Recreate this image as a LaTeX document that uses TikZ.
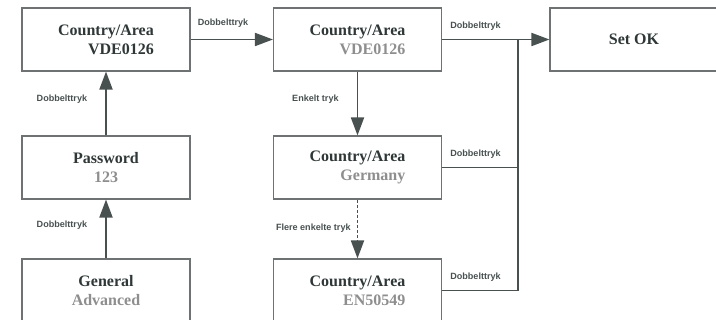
\documentclass[tikz,border=0pt]{standalone}
\usepackage{fontspec}
\setmainfont{Liberation Serif}
\setsansfont{Liberation Sans}
\usetikzlibrary{arrows.meta}
\definecolor{titlegray}{HTML}{2F3737}
\definecolor{valuegray}{HTML}{8E8E8E}
\definecolor{linegray}{HTML}{485050}
\definecolor{framegray}{HTML}{6E7272}

\begin{document}
\begin{tikzpicture}[x=0.75pt,y=-0.75pt,>={Triangle[length=13.5pt,width=9.75pt]},line join=miter,
  box/.style={draw=framegray,line width=0.8pt,minimum width=126pt,minimum height=47.25pt,inner sep=0pt,
    text=titlegray,font=\fontsize{12}{14.5}\selectfont\bfseries},
  link/.style={draw=linegray,line width=1.35pt},
  tag/.style={text=linegray,inner sep=0pt,font=\sffamily\bfseries\fontsize{6.8}{8}\selectfont}]
  \useasboundingbox (0,0) rectangle (716,320);

  \node[box,align=right] (area)  at (106,39.5)   {Country/Area\\VDE0126};
  \node[box,align=center] (pwd)  at (106,167.5)  {Password\\\textcolor{valuegray}{123}};
  \node[box,align=center] (gen)  at (106,290.5)  {General\\\textcolor{valuegray}{Advanced}};
  \node[box,align=right] (sel)   at (357.5,39.5) {Country/Area\\\textcolor{valuegray}{VDE0126}};
  \node[box,align=right] (ger)   at (357.5,167.5) {Country/Area\\\textcolor{valuegray}{Germany}};
  \node[box,align=right] (en)    at (357.5,290.5) {Country/Area\\\textcolor{valuegray}{EN50549}};
  \node[box] (ok) at (634,39.5) {Set OK};
  \coordinate (bus) at (518,39.5);

  \draw[link,->] (gen) -- (pwd) node[tag,midway,anchor=east,xshift=-13.5pt,yshift=3pt] {Dobbelttryk};
  \draw[link,->] (pwd) -- (area) node[tag,midway,anchor=east,xshift=-13.5pt,yshift=3pt] {Dobbelttryk};
  \draw[link,->] (area) -- (sel);
  \node[tag,anchor=base west] at ([shift={(7,-14)}]area.east) {Dobbelttryk};

  \draw[link,->] (sel) -- (ok);
  \node[tag,anchor=base west] at ([shift={(8,-11)}]sel.east) {Dobbelttryk};
  \draw[link] (bus) |- (en.east);
  \draw[link] (ger.east) -- (ger.east -| bus);
  \node[tag,anchor=base west] at ([shift={(8,-11)}]ger.east) {Dobbelttryk};
  \node[tag,anchor=base west] at ([shift={(8,-11)}]en.east) {Dobbelttryk};

  \draw[link,->] (sel) -- (ger) node[tag,midway,anchor=east,xshift=-13.5pt,yshift=3pt] {Enkelt tryk};
  \draw[link,->,dash pattern=on 2.6pt off 1.2pt] (ger) -- (en) node[tag,midway,anchor=east,xshift=-4.5pt,yshift=1pt] {Flere enkelte tryk};
\end{tikzpicture}
\end{document}
